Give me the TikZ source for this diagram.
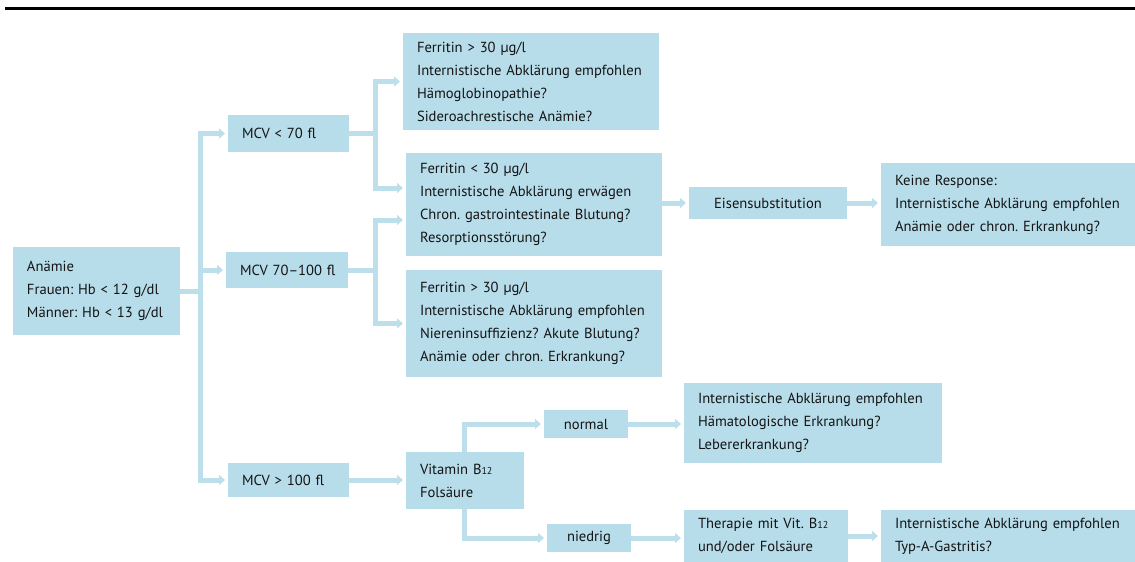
\documentclass[tikz,border=0pt]{standalone}
\usepackage{fontspec}
\setmainfont{PT Sans}
\usetikzlibrary{arrows.meta}
\frenchspacing
\definecolor{boxblue}{RGB}{183,220,234}
\definecolor{arrblue}{RGB}{189,223,236}
\definecolor{textc}{RGB}{20,20,20}
\newcommand{\Bzw}{B{\fontsize{10}{10}\selectfont 12}}
\begin{document}
\begin{tikzpicture}[x=1pt,y=-1pt,
  box/.style={fill=boxblue, text=textc, anchor=north west, inner xsep=14pt, inner ysep=0pt,
    outer sep=0pt, align=left, font=\fontsize{14.6}{23}\selectfont},
  cbox/.style={box, inner xsep=0pt, align=center},
  ln/.style={draw=arrblue, line width=5pt},
  arr/.style={ln, -{Triangle[width=10pt,length=6pt]}, shorten >=3pt}]
\useasboundingbox (0,0) rectangle (1135,562);
% top rule
\draw[line width=3pt] (5,8.5) -- (1135,8.5);

% boxes
\node[box, text width=139pt, minimum height=88pt] (anaemia) at (13,247)
  {Anämie\\\mbox{Frauen: Hb < 12 g/dl}\\\mbox{Männer: Hb < 13 g/dl}};
\node[box, text width=93pt, minimum height=37pt] (mcvA) at (228,115) {\mbox{MCV < 70 fl}};
\node[box, text width=94pt, minimum height=36pt] (mcvB) at (226,252) {\mbox{MCV 70–100 fl}};
\node[box, text width=93pt, minimum height=34pt] (mcvC) at (228,463) {\mbox{MCV > 100 fl}};
\node[box, text width=228pt, minimum height=97pt] (f1) at (403,33)
  {Ferritin > 30 µg/l\\Internistische Abklärung empfohlen\\Hämoglobinopathie?\\Sideroachrestische Anämie?};
\node[box, text width=228pt, minimum height=103pt] (f2) at (406,153)
  {Ferritin < 30 µg/l\\Internistische Abklärung erwägen\\Chron. gastrointestinale Blutung?\\Resorptionsstörung?};
\node[box, text width=228pt, minimum height=107pt] (f3) at (406,270)
  {Ferritin > 30 µg/l\\Internistische Abklärung empfohlen\\Niereninsuffizienz? Akute Blutung?\\Anämie oder chron. Erkrankung?};
\node[cbox, text width=158pt, minimum height=32pt] (eisen) at (689,187) {Eisensubstitution};
\node[box, text width=226pt, minimum height=83pt] (keine) at (881,163)
  {Keine Response:\\Internistische Abklärung empfohlen\\Anämie oder chron. Erkrankung?};
\node[box, text width=90pt, minimum height=57pt] (vit) at (406,452) {\mbox{Vitamin \Bzw}\\Folsäure};
\node[cbox, text width=84pt, minimum height=28pt] (normal) at (544,410) {normal};
\node[cbox, text width=84pt, minimum height=28pt] (niedrig) at (547,524) {niedrig};
\node[box, text width=230pt, minimum height=80pt] (hbox) at (684,383)
  {Internistische Abklärung empfohlen\\Hämatologische Erkrankung?\\Lebererkrankung?};
\node[box, text width=136pt, minimum height=52pt] (ther) at (684,510)
  {\mbox{Therapie mit Vit. \Bzw}\\und/oder Folsäure};
\node[box, text width=226pt, minimum height=52pt] (typa) at (881,510)
  {Internistische Abklärung empfohlen\\Typ-A-Gastritis?};

% junctions
\coordinate (j1) at (200,291);
\coordinate (j2) at (375,133.5);
\coordinate (j3) at (375,270);

% connectors
\draw[ln] (anaemia.east |- j1) -- (j1);
\draw[arr] (j1) |- (mcvA.west);
\draw[arr] (j1) |- (mcvC.west);
\draw[arr] (j1 |- mcvB.west) -- (mcvB.west);

\draw[ln] (mcvA.east) -- (j2);
\draw[arr] (j2) |- (f1.west);
\draw[arr] (j2) |- ([yshift=16.5pt]f2.west);
\draw[ln] (mcvB.east) -- (j3);
\draw[arr] (j3) |- ([yshift=-15.5pt]f2.west);
\draw[arr] (j3) |- (f3.west);

\draw[arr] (f2.east |- eisen.west) -- (eisen.west);
\draw[arr] (eisen.east) -- (eisen.east -| keine.west);

\draw[arr] (mcvC.east) -- (mcvC.east -| vit.west);
\draw[arr] ([xshift=-1pt]vit.north) |- (normal.west);
\draw[arr] ([xshift=-1pt]vit.south) |- (niedrig.west);
\draw[arr] (normal.east) -- (normal.east -| hbox.west);
\draw[arr] (niedrig.east) -- (niedrig.east -| ther.west);
\draw[arr] (ther.east) -- (ther.east -| typa.west);
\end{tikzpicture}
\end{document}
